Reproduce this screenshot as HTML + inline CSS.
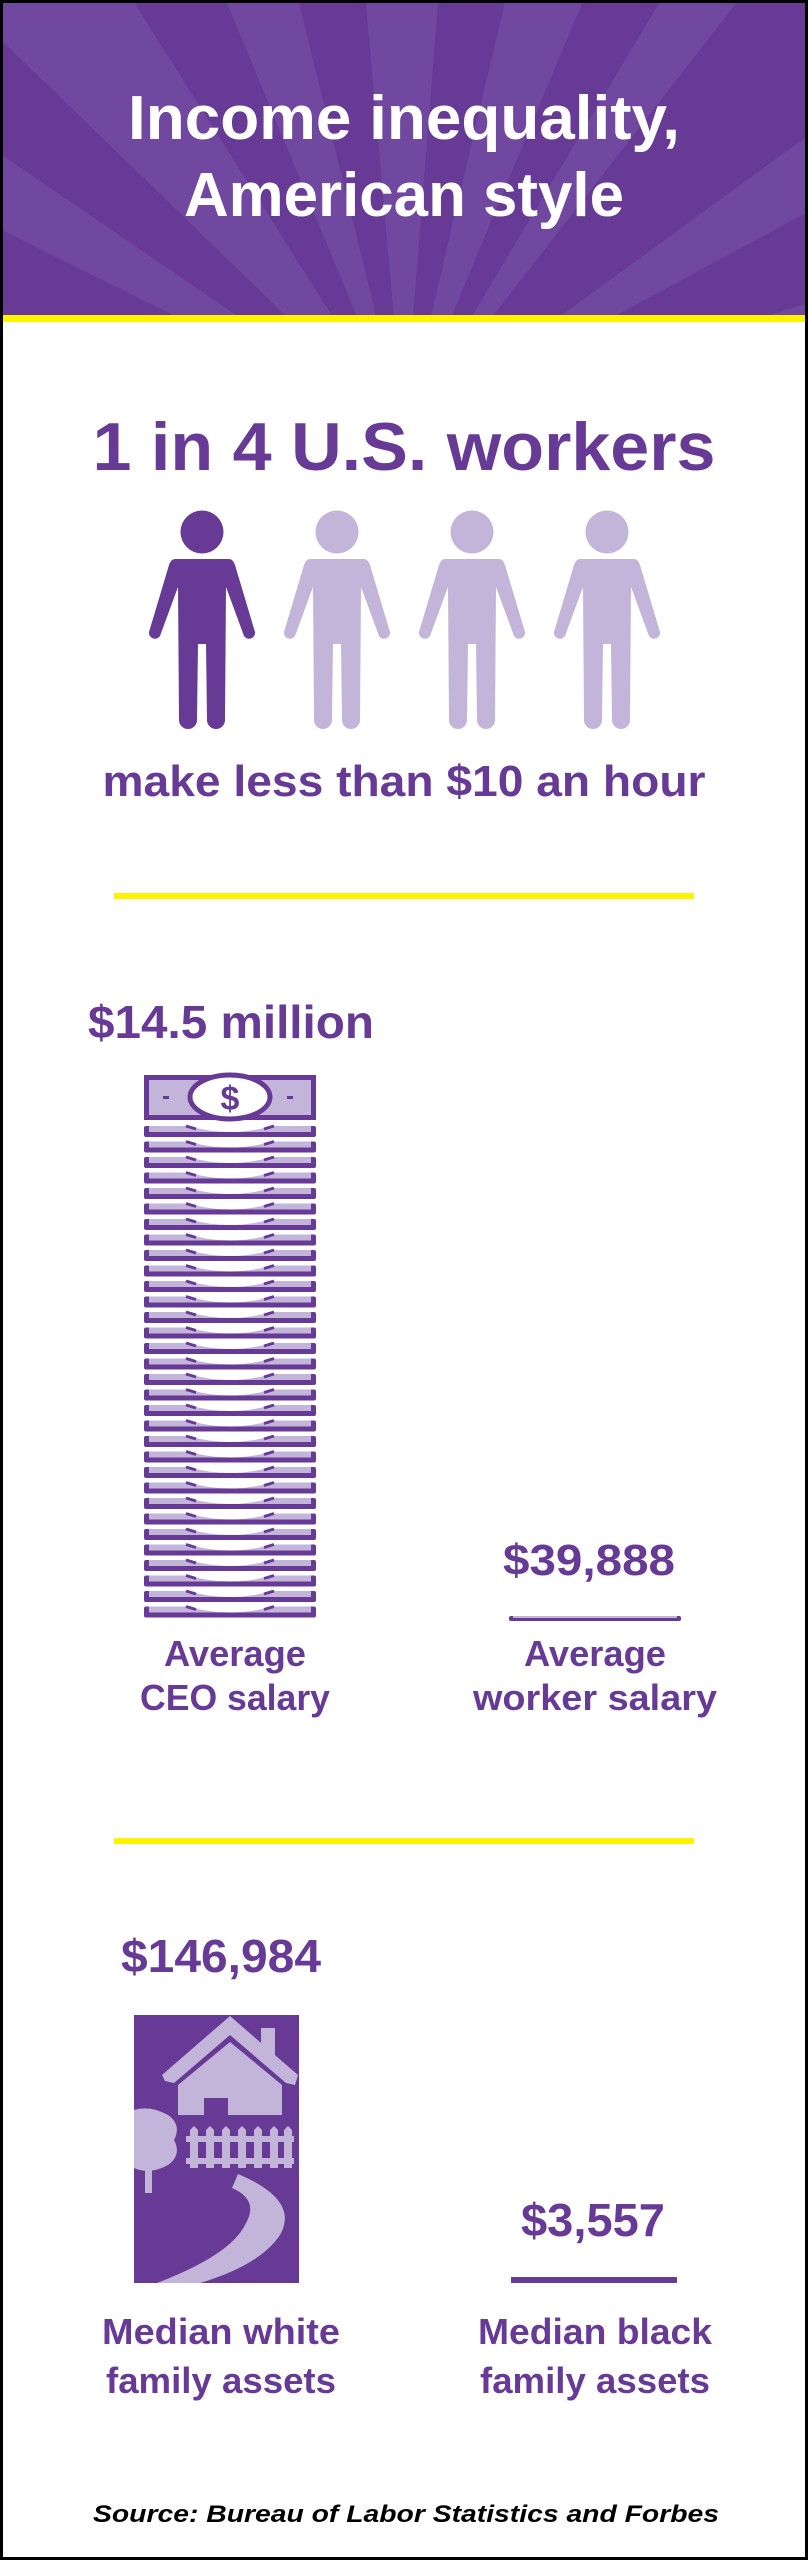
<!DOCTYPE html>
<html><head><meta charset="utf-8"><style>
html,body{margin:0;padding:0;background:#fff}
svg{display:block}
text{font-family:"Liberation Sans",sans-serif;font-weight:bold}
</style></head><body>
<svg width="808" height="2560" viewBox="0 0 808 2560" xmlns="http://www.w3.org/2000/svg">
<defs>
<clipPath id="hc"><rect x="0" y="0" width="808" height="316"/></clipPath>
<g id="bill">
<rect x="144" y="0" width="172" height="11" rx="2" fill="#673a96"/>
<rect x="149" y="0" width="162" height="6" fill="#c3b4da"/>
<path d="M188 0 Q230 12 272 0 Z" fill="#fff"/>
<path d="M186 0 L196 3 M274 0 L264 3" stroke="#673a96" stroke-width="3"/>
</g>
<g id="person">
<circle cx="0" cy="0" r="21.5"/>
<path d="M-27 27 L27 27 Q31 27 33 33 L53 100 A6 6 0 0 1 42 104 L24 55 L23 188 A9 9 0 0 1 5 188 L4 112 L-4 112 L-5 188 A9 9 0 0 1 -23 188 L-24 55 L-42 104 A6 6 0 0 1 -53 100 L-33 33 Q-31 27 -27 27 Z"/>
</g>
</defs>
<rect x="0" y="0" width="808" height="2560" fill="#fff"/>
<!-- header -->
<g clip-path="url(#hc)">
<rect x="0" y="0" width="808" height="316" fill="#673a96"/>
<g fill="#7148a0">
<polygon points="404,430 -400,-120 -400,30"/>
<polygon points="404,430 -300,-400 -120,-400"/>
<polygon points="404,430 60,-400 200,-400"/>
<polygon points="404,430 330,-400 470,-400"/>
<polygon points="404,430 600,-400 750,-400"/>
<polygon points="404,430 900,-400 1050,-400"/>
<polygon points="404,430 1200,-150 1200,0"/>
<polygon points="404,430 1200,180 1200,300"/>
<polygon points="404,430 -400,220 -400,330"/>
<polygon points="404,430 -200,-400 -350,-300"/>
</g>
</g>
<rect x="0" y="315" width="808" height="7" fill="#fff200"/>
<text x="404" y="139" font-size="62" fill="#fff" text-anchor="middle" textLength="552" lengthAdjust="spacingAndGlyphs">Income inequality,</text>
<text x="404" y="216" font-size="62" fill="#fff" text-anchor="middle" textLength="440" lengthAdjust="spacingAndGlyphs">American style</text>
<!-- section 1 -->
<text x="404" y="470" font-size="68" fill="#673a96" text-anchor="middle" textLength="623" lengthAdjust="spacingAndGlyphs">1 in 4 U.S. workers</text>
<use href="#person" x="202" y="532" fill="#673a96"/>
<use href="#person" x="337" y="532" fill="#c3b4da"/>
<use href="#person" x="472" y="532" fill="#c3b4da"/>
<use href="#person" x="607" y="532" fill="#c3b4da"/>
<text x="404" y="796" font-size="44" fill="#673a96" text-anchor="middle" textLength="603" lengthAdjust="spacingAndGlyphs">make less than $10 an hour</text>
<rect x="114" y="893" width="580" height="6" fill="#fff200"/>
<!-- section 2 -->
<text x="231" y="1038" font-size="46" fill="#673a96" text-anchor="middle" textLength="286" lengthAdjust="spacingAndGlyphs">$14.5 million</text>
<rect x="146.5" y="1077.5" width="167" height="40" fill="#c3b4da" stroke="#673a96" stroke-width="5"/>
<ellipse cx="230" cy="1097" rx="40" ry="22" fill="#fff" stroke="#673a96" stroke-width="5"/>
<text x="230" y="1110" font-size="34" fill="#673a96" text-anchor="middle">$</text>
<rect x="163" y="1096" width="6" height="3" fill="#673a96"/>
<rect x="287" y="1096" width="6" height="3" fill="#673a96"/>
<g id="stack">
<use href="#bill" y="1126"/><use href="#bill" y="1141.5"/><use href="#bill" y="1157"/><use href="#bill" y="1172.5"/>
<use href="#bill" y="1188"/><use href="#bill" y="1203.5"/><use href="#bill" y="1219"/><use href="#bill" y="1234.5"/>
<use href="#bill" y="1250"/><use href="#bill" y="1265.5"/><use href="#bill" y="1281"/><use href="#bill" y="1296.5"/>
<use href="#bill" y="1312"/><use href="#bill" y="1327.5"/><use href="#bill" y="1343"/><use href="#bill" y="1358.5"/>
<use href="#bill" y="1374"/><use href="#bill" y="1389.5"/><use href="#bill" y="1405"/><use href="#bill" y="1420.5"/>
<use href="#bill" y="1436"/><use href="#bill" y="1451.5"/><use href="#bill" y="1467"/><use href="#bill" y="1482.5"/>
<use href="#bill" y="1498"/><use href="#bill" y="1513.5"/><use href="#bill" y="1529"/><use href="#bill" y="1544.5"/>
<use href="#bill" y="1560"/><use href="#bill" y="1575.5"/><use href="#bill" y="1591"/><use href="#bill" y="1606.5"/>
</g>
<text x="589" y="1575" font-size="44" fill="#673a96" text-anchor="middle" textLength="172" lengthAdjust="spacingAndGlyphs">$39,888</text>
<rect x="509" y="1616" width="172" height="5" rx="2" fill="#673a96"/>
<rect x="513" y="1616" width="164" height="2" fill="#c3b4da"/>
<text x="235" y="1666" font-size="36" fill="#673a96" text-anchor="middle" textLength="142" lengthAdjust="spacingAndGlyphs">Average</text>
<text x="235" y="1710" font-size="36" fill="#673a96" text-anchor="middle" textLength="190" lengthAdjust="spacingAndGlyphs">CEO salary</text>
<text x="595" y="1666" font-size="36" fill="#673a96" text-anchor="middle" textLength="142" lengthAdjust="spacingAndGlyphs">Average</text>
<text x="595" y="1710" font-size="36" fill="#673a96" text-anchor="middle" textLength="244" lengthAdjust="spacingAndGlyphs">worker salary</text>
<rect x="114" y="1838" width="580" height="6" fill="#fff200"/>
<!-- section 3 -->
<text x="221" y="1972" font-size="46" fill="#673a96" text-anchor="middle" textLength="200" lengthAdjust="spacingAndGlyphs">$146,984</text>
<rect x="134" y="2015" width="165" height="268" fill="#673a96"/>
<g fill="#c3b4da">
<path d="M230 2016 L298 2075 L295 2085 L286 2083 L230 2035 L174 2083 L165 2081 L162 2075 Z"/>
<rect x="261" y="2028" width="14" height="30"/>
<path d="M178 2085 L230 2042 L282 2085 L282 2115 L178 2115 Z"/>
<path d="M134 2110 Q150 2105 168 2115 Q182 2125 174 2140 Q182 2155 168 2165 Q150 2175 134 2168 Z"/>
<rect x="145" y="2160" width="7" height="33"/>
<rect x="186" y="2136" width="108" height="6"/>
<rect x="186" y="2158" width="108" height="6"/>
<path d="M190 2130 l4 -4 l4 4 v38 h-8 z M206 2130 l4 -4 l4 4 v38 h-8 z M222 2130 l4 -4 l4 4 v38 h-8 z M238 2130 l4 -4 l4 4 v38 h-8 z M254 2130 l4 -4 l4 4 v38 h-8 z M270 2130 l4 -4 l4 4 v38 h-8 z M284 2130 l4 -4 l4 4 v38 h-8 z"/>
<path d="M238 2174 Q300 2200 280 2235 Q260 2265 200 2283 L157 2283 Q230 2255 245 2225 Q260 2200 232 2188 Z"/>
</g>
<rect x="204" y="2098" width="24" height="22" fill="#673a96"/>
<text x="593" y="2236" font-size="46" fill="#673a96" text-anchor="middle" textLength="144" lengthAdjust="spacingAndGlyphs">$3,557</text>
<rect x="511" y="2277" width="166" height="6" fill="#673a96"/>
<text x="221" y="2344" font-size="36" fill="#673a96" text-anchor="middle" textLength="238" lengthAdjust="spacingAndGlyphs">Median white</text>
<text x="221" y="2393" font-size="36" fill="#673a96" text-anchor="middle" textLength="230" lengthAdjust="spacingAndGlyphs">family assets</text>
<text x="595" y="2344" font-size="36" fill="#673a96" text-anchor="middle" textLength="234" lengthAdjust="spacingAndGlyphs">Median black</text>
<text x="595" y="2393" font-size="36" fill="#673a96" text-anchor="middle" textLength="230" lengthAdjust="spacingAndGlyphs">family assets</text>
<text x="406" y="2522" font-size="24" font-style="italic" fill="#000" text-anchor="middle" textLength="626" lengthAdjust="spacingAndGlyphs">Source: Bureau of Labor Statistics and Forbes</text>
<rect x="1.5" y="1.5" width="805" height="2557" fill="none" stroke="#000" stroke-width="3"/>
</svg>
</body></html>
